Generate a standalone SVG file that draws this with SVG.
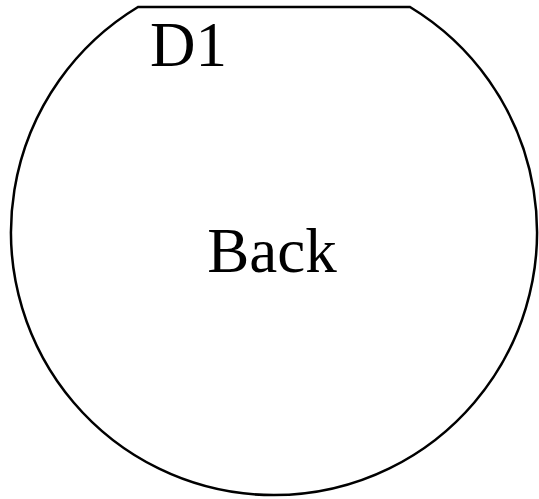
<svg xmlns="http://www.w3.org/2000/svg" width="539" height="499" viewBox="0 0 539 499">
<style>
.outline{fill:none;stroke:#000;stroke-width:2.5}
.lbl{font-family:"Liberation Serif","Times New Roman",serif;font-size:63px;fill:#000}
</style>
<rect width="539" height="499" fill="#fff"/>
<g id="back">
<path class="outline" d="M138,7 L410,7 A263,263 0 1 1 138,7 Z"/>
<text class="lbl" x="272" y="272" text-anchor="middle">Back</text>
</g>
<g id="d1">
<text class="lbl" x="150" y="66">D1</text>
</g>
<g id="connectors"></g>
</svg>
